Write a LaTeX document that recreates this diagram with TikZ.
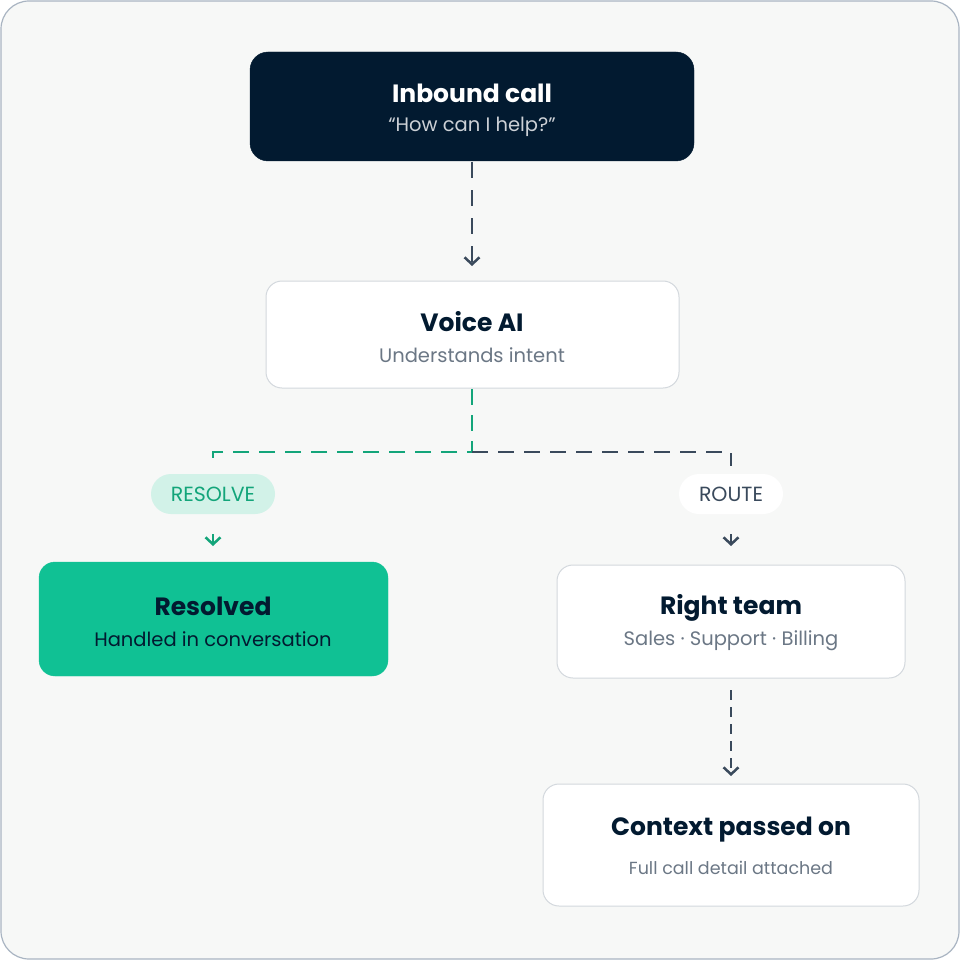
\documentclass[tikz,border=0pt]{standalone}
\usepackage{fontspec}
\setmainfont{Poppins}
\usetikzlibrary{arrows.meta}
\definecolor{bg}{HTML}{F7F8F7}
\definecolor{frame}{HTML}{A9B4C2}
\definecolor{navy}{HTML}{021A30}
\definecolor{bord}{HTML}{D3D8DD}
\definecolor{sub}{HTML}{6B7785}
\definecolor{green}{HTML}{10C194}
\definecolor{dgreen}{HTML}{13A57A}
\definecolor{pillg}{HTML}{D2F2E8}
\definecolor{line}{HTML}{3A4A5C}
\tikzset{
 box/.style={draw=bord,line width=1pt,fill=white,rounded corners=16pt},
 title/.style={font=\fontsize{25}{28}\selectfont\bfseries,text=navy},
 subt/.style={font=\fontsize{19.5}{23}\selectfont,text=sub},
 con/.style={line width=2.5pt},
 tip/.style={-{Straight Barb[length=7pt,width=15pt,line width=2.5pt]}},
 pill/.style={rounded corners=20pt,minimum height=40pt,font=\fontsize{20.5}{24}\selectfont},
}
\begin{document}
\begin{tikzpicture}[x=1pt,y=-1pt]
\useasboundingbox (0,0) rectangle (960,960);
\draw[fill=bg,draw=frame,line width=1.2pt,rounded corners=28pt] (1,1) rectangle (959,959);
% boxes
\draw[fill=navy,draw=navy,rounded corners=18pt] (250,52) rectangle (694,161);
\node[title,text=white] (t1) at (472,93) {Inbound call};
\node[subt,text=white!80!navy] (s1) at (472,127) {“How can I help?”};
\draw[box] (266,281) rectangle (679,388);
\node[title] (t2) at (472,322) {Voice AI};
\node[subt] (s2) at (472,355) {Understands intent};
\draw[fill=green,draw=green,rounded corners=16pt] (39,562) rectangle (388,676);
\node[title] (t3) at (213,606) {Resolved};
\node[subt,text=navy] (s3) at (213,639) {Handled in conversation};
\draw[box] (557,565) rectangle (905,678);
\node[title] (t4) at (731,608) {Right team};
\node[subt] (s4) at (731,641) {Sales · Support · Billing};
\draw[box] (543,784) rectangle (919,906);
\node[title] (t5) at (731,830) {Context passed on};
\node[subt,font=\fontsize{17.5}{21}\selectfont] (s5) at (731,868) {Full call detail attached};
% pills
\node[pill,fill=pillg,minimum width=124pt,text=dgreen] (p1) at (213,494) {RESOLVE};
\node[pill,fill=white,minimum width=104pt,text=line] (p2) at (731,494) {ROUTE};
% coordinates
\coordinate (a1) at (472,162); \coordinate (a2) at (472,266);
\coordinate (b0) at (472,389); \coordinate (b1) at (472,452);
\coordinate (gl) at (213,452); \coordinate (gl2) at (213,466);
\coordinate (rl) at (731,452); \coordinate (rl2) at (731,466);
\coordinate (ga) at (213,534); \coordinate (gb) at (213,546);
\coordinate (ra) at (731,534); \coordinate (rb) at (731,546);
\coordinate (c1) at (731,690); \coordinate (c2) at (731,776);
% connectors
\draw[con,line,tip,dash pattern=on 16pt off 12pt] (a1) -- (a2);
\draw[con,dgreen,dash pattern=on 16pt off 10pt] (b0) -- (b1) -- (gl) -- (gl2);
\draw[con,line,dash pattern=on 16pt off 10pt] (b1) -- (rl) -- (rl2);
\draw[line width=2.5pt,dgreen,tip] (ga) -- (gb);
\draw[line width=2.5pt,line,tip] (ra) -- (rb);
\draw[con,line,tip,dash pattern=on 10pt off 7pt] (c1) -- (c2);
\end{tikzpicture}
\end{document}
